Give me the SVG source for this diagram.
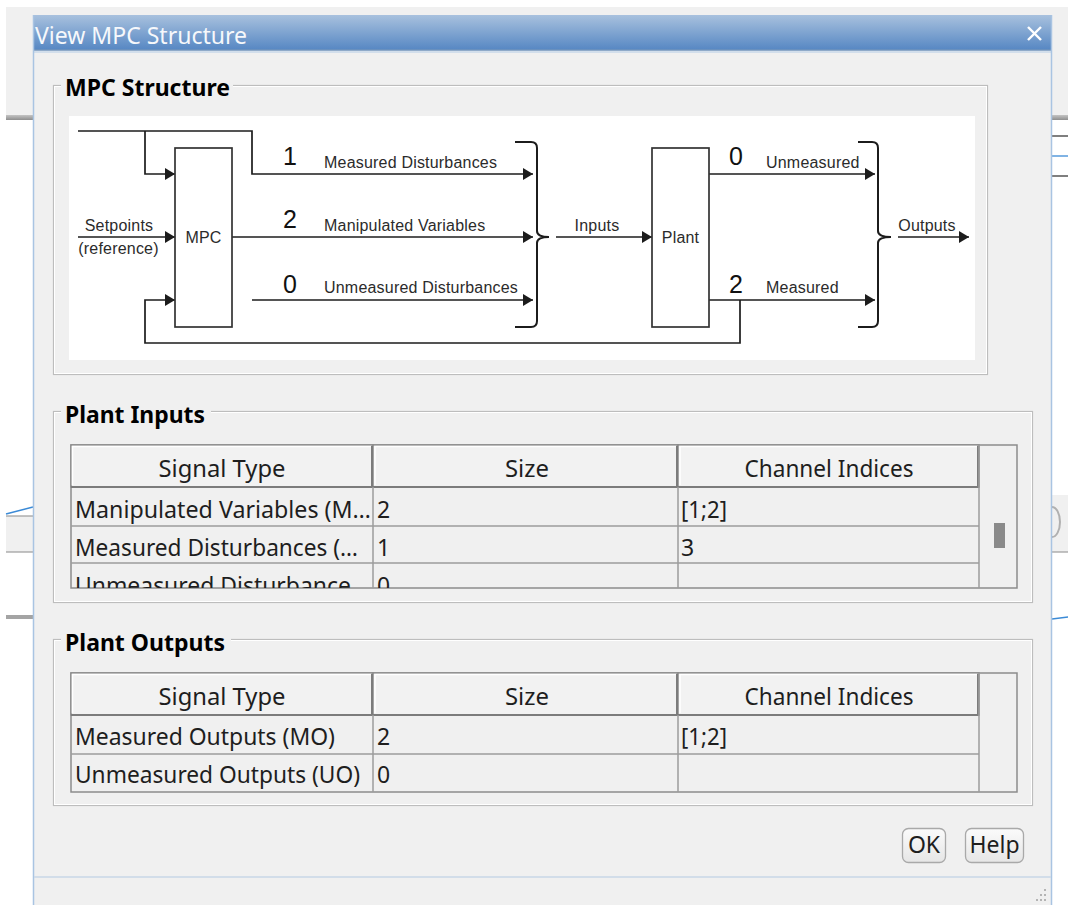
<svg xmlns="http://www.w3.org/2000/svg" width="1068" height="905" viewBox="0 0 1068 905">
  <defs>
    <linearGradient id="titleGrad" x1="0" y1="0" x2="0" y2="1">
      <stop offset="0" stop-color="#a8c1de"/>
      <stop offset="1" stop-color="#5687c3"/>
    </linearGradient>
    <linearGradient id="btnGrad" x1="0" y1="0" x2="0" y2="1">
      <stop offset="0" stop-color="#fbfbfb"/>
      <stop offset="1" stop-color="#e6e6e6"/>
    </linearGradient>
    <linearGradient id="barGrad" x1="0" y1="0" x2="0" y2="1">
      <stop offset="0" stop-color="#c4c4c4"/>
      <stop offset="1" stop-color="#8e8e8e"/>
    </linearGradient>
    <marker id="arrow" markerWidth="10" markerHeight="12" refX="10" refY="6" orient="auto" markerUnits="userSpaceOnUse">
      <path d="M0,0 L10,6 L0,12 z" fill="#1c1c1c"/>
    </marker>
    <clipPath id="clipLastRow">
      <rect x="71" y="563" width="908" height="25"/>
    </clipPath>
  </defs>
  <style>
    .wire{fill:none;stroke:#1c1c1c;stroke-width:1.7}
    .brace{fill:none;stroke:#1c1c1c;stroke-width:2}
    .block{fill:#fff;stroke:#333;stroke-width:1.7}
    .lbl{font-family:"Liberation Sans",Arial,sans-serif;font-size:16px;fill:#2b2b2b;letter-spacing:0.2px}
    .num{font-family:"Liberation Sans",Arial,sans-serif;font-size:25px;fill:#111}
    .ui{font-family:"Noto Sans","Open Sans",sans-serif;font-size:23px;fill:#1e1e1e}
    .grpTitle{font-family:"Noto Sans","Open Sans",sans-serif;font-weight:bold;font-size:23px;fill:#000}
    .grpOuter{fill:none;stroke:#bdbdbd;stroke-width:1.2}
    .grpInner{fill:none;stroke:#ffffff;stroke-width:1}
    .grid{fill:none;stroke:#9c9c9c;stroke-width:1.5}
    .hdr{fill:#f2f2f2;stroke:#8c8c8c;stroke-width:1.5}
    .hl{fill:none;stroke:#ffffff;stroke-width:1.5}
    .sh{fill:none;stroke:#7c7c7c;stroke-width:2}
    .btn{fill:url(#btnGrad);stroke:#a9a9a9;stroke-width:1.3}
  </style>

  <!-- application window behind the dialog -->
  <g id="backdrop">
    <rect x="0" y="0" width="1068" height="905" fill="#ffffff"/>
    <rect x="6" y="7" width="1062" height="110" fill="#f0f0f0"/>
    <rect x="6" y="115" width="1062" height="5" fill="url(#barGrad)"/>
    <line x1="1052" y1="136" x2="1068" y2="136" stroke="#3a3a3a" stroke-width="1.3"/>
    <line x1="1052" y1="156" x2="1068" y2="156" stroke="#3b8ad6" stroke-width="1.3"/>
    <line x1="1052" y1="176" x2="1068" y2="176" stroke="#3a3a3a" stroke-width="1.3"/>
    <line x1="6" y1="514" x2="33" y2="507" stroke="#3b8ad6" stroke-width="1.5"/>
    <rect x="6" y="516" width="27" height="36" fill="#f0f0f0"/>
    <line x1="6" y1="516" x2="33" y2="516" stroke="#9a9a9a" stroke-width="1.2"/>
    <line x1="6" y1="552" x2="33" y2="552" stroke="#9a9a9a" stroke-width="1.2"/>
    <rect x="1052" y="495" width="16" height="57" fill="#f0f0f0"/>
    <line x1="1052" y1="552" x2="1068" y2="552" stroke="#9a9a9a" stroke-width="1.2"/>
    <path d="M1052,507 A8,15 0 0 1 1052,537" fill="none" stroke="#b0b0b0" stroke-width="2"/>
    <rect x="6" y="615" width="27" height="4" fill="#a4a4a4"/>
    <line x1="1052" y1="619" x2="1068" y2="617" stroke="#3b8ad6" stroke-width="1.5"/>
  </g>

  <!-- dialog frame -->
  <g id="dialog">
    <rect x="33" y="15" width="1019" height="895" fill="#f0f0f0"/>
    <rect x="33" y="15" width="1019" height="35" fill="url(#titleGrad)"/>
    <line x1="33" y1="50" x2="1052" y2="50" stroke="#6f93bd" stroke-width="1.5"/>
    <line x1="33" y1="52" x2="1052" y2="52" stroke="#c9d8ea" stroke-width="1.5"/>
    <text x="35" y="44" font-family="'Noto Sans','Open Sans',sans-serif" font-size="23" fill="#f6f8fb" textLength="212" lengthAdjust="spacingAndGlyphs">View MPC Structure</text>
    <line x1="1028" y1="27" x2="1041" y2="40" stroke="#ffffff" stroke-width="2.4"/>
    <line x1="1041" y1="27" x2="1028" y2="40" stroke="#ffffff" stroke-width="2.4"/>
    <line x1="33.5" y1="15" x2="33.5" y2="905" stroke="#a9c4e2" stroke-width="1.5"/>
    <line x1="1051.5" y1="15" x2="1051.5" y2="905" stroke="#a9c4e2" stroke-width="1.5"/>
    <line x1="34" y1="877" x2="1051" y2="877" stroke="#c8d7e7" stroke-width="1.5"/>
    <g fill="#b4b4b4">
      <rect x="1044" y="889" width="2" height="2"/>
      <rect x="1040" y="894" width="2" height="2"/>
      <rect x="1044" y="894" width="2" height="2"/>
      <rect x="1036" y="899" width="2" height="2"/>
      <rect x="1040" y="899" width="2" height="2"/>
      <rect x="1044" y="899" width="2" height="2"/>
    </g>
  </g>

  <!-- MPC Structure group -->
  <g id="mpc-structure-group">
    <rect class="grpOuter" x="53.5" y="85.5" width="934" height="289"/>
    <rect class="grpInner" x="54.5" y="86.5" width="932" height="287"/>
    <rect x="61" y="76" width="172" height="22" fill="#f0f0f0"/>
    <text class="grpTitle" x="65" y="96" textLength="165" lengthAdjust="spacingAndGlyphs">MPC Structure</text>
    <rect x="69" y="116" width="906" height="244" fill="#ffffff"/>
  </g>

  <!-- block diagram connectors -->
  <g id="connectors">
    <path class="wire" d="M78,131 H252 V174 H533" marker-end="url(#arrow)"/>
    <path class="wire" d="M145,131 V174 H175" marker-end="url(#arrow)"/>
    <path class="wire" d="M78,237 H175" marker-end="url(#arrow)"/>
    <path class="wire" d="M740,300 V343 H145 V300 H175" marker-end="url(#arrow)"/>
    <path class="wire" d="M232,237 H533" marker-end="url(#arrow)"/>
    <path class="wire" d="M252,300 H533" marker-end="url(#arrow)"/>
    <path class="wire" d="M556,237 H652" marker-end="url(#arrow)"/>
    <path class="wire" d="M709,174 H875" marker-end="url(#arrow)"/>
    <path class="wire" d="M709,300 H875" marker-end="url(#arrow)"/>
    <path class="wire" d="M898,237 H969" marker-end="url(#arrow)"/>
    <path class="brace" d="M515,142 H531 Q537,142 537,148 V231 Q537,237 549,237 Q537,237 537,243 V321 Q537,327 531,327 H515"/>
    <path class="brace" d="M858,142 H872 Q878,142 878,148 V231 Q878,237 891,237 Q878,237 878,243 V321 Q878,327 872,327 H858"/>
  </g>

  <!-- block diagram nodes -->
  <g id="node-mpc">
    <rect class="block" x="175" y="148" width="57" height="179"/>
    <text class="lbl" x="203.5" y="243" text-anchor="middle">MPC</text>
  </g>
  <g id="node-plant">
    <rect class="block" x="652" y="148" width="57" height="179"/>
    <text class="lbl" x="680.5" y="243" text-anchor="middle">Plant</text>
  </g>
  <g id="labels-inputs">
    <text class="lbl" x="119" y="231" text-anchor="middle">Setpoints</text>
    <text class="lbl" x="118.5" y="254" text-anchor="middle">(reference)</text>
    <text class="num" x="290" y="165" text-anchor="middle">1</text>
    <text class="lbl" x="324" y="168">Measured Disturbances</text>
    <text class="num" x="290" y="228" text-anchor="middle">2</text>
    <text class="lbl" x="324" y="231">Manipulated Variables</text>
    <text class="num" x="290" y="293" text-anchor="middle">0</text>
    <text class="lbl" x="324" y="293">Unmeasured Disturbances</text>
    <text class="lbl" x="597" y="231" text-anchor="middle">Inputs</text>
  </g>
  <g id="labels-outputs">
    <text class="num" x="736" y="165" text-anchor="middle">0</text>
    <text class="lbl" x="766" y="168">Unmeasured</text>
    <text class="num" x="736" y="293" text-anchor="middle">2</text>
    <text class="lbl" x="766" y="293">Measured</text>
    <text class="lbl" x="927" y="231" text-anchor="middle">Outputs</text>
  </g>

  <!-- Plant Inputs group -->
  <g id="plant-inputs-group">
    <rect class="grpOuter" x="53.5" y="411.5" width="979" height="191"/>
    <rect class="grpInner" x="54.5" y="412.5" width="977" height="189"/>
    <rect x="61" y="402" width="150" height="22" fill="#f0f0f0"/>
    <text class="grpTitle" x="65" y="423" textLength="140" lengthAdjust="spacingAndGlyphs">Plant Inputs</text>

    <rect x="71" y="445" width="946" height="143" fill="#f0f0f0" stroke="#8c8c8c" stroke-width="1.5"/>
    <rect class="hdr" x="71" y="445" width="302" height="42"/>
    <rect class="hdr" x="373" y="445" width="305" height="42"/>
    <rect class="hdr" x="678" y="445" width="301" height="42"/>
    <path class="hl" d="M72.5,485 V446.5 H371 M375,485 V446.5 H676 M680,485 V446.5 H977"/>
    <path class="sh" d="M71,487 H979 M372,446 V487 M677,446 V487 M978,446 V487"/>
    <text class="ui" x="222" y="477" text-anchor="middle" textLength="127" lengthAdjust="spacingAndGlyphs">Signal Type</text>
    <text class="ui" x="527" y="477" text-anchor="middle" textLength="44" lengthAdjust="spacingAndGlyphs">Size</text>
    <text class="ui" x="829" y="477" text-anchor="middle" textLength="169" lengthAdjust="spacingAndGlyphs">Channel Indices</text>

    <path class="grid" d="M71,526 H979 M71,563 H979 M373,487 V588 M678,487 V588 M979,445 V588"/>
    <text class="ui" x="75" y="518" textLength="296" lengthAdjust="spacingAndGlyphs">Manipulated Variables (M…</text>
    <text class="ui" x="377" y="518">2</text>
    <text class="ui" x="681" y="518" textLength="46" lengthAdjust="spacingAndGlyphs">[1;2]</text>
    <text class="ui" x="75" y="556" textLength="283" lengthAdjust="spacingAndGlyphs">Measured Disturbances (…</text>
    <text class="ui" x="377" y="556">1</text>
    <text class="ui" x="681" y="556">3</text>
    <g clip-path="url(#clipLastRow)">
      <text class="ui" x="75" y="594" textLength="294" lengthAdjust="spacingAndGlyphs">Unmeasured Disturbance…</text>
      <text class="ui" x="377" y="594">0</text>
    </g>
    <rect x="994" y="523" width="11" height="25" fill="#8a8a8a"/>
  </g>

  <!-- Plant Outputs group -->
  <g id="plant-outputs-group">
    <rect class="grpOuter" x="53.5" y="639.5" width="979" height="166"/>
    <rect class="grpInner" x="54.5" y="640.5" width="977" height="164"/>
    <rect x="61" y="630" width="170" height="22" fill="#f0f0f0"/>
    <text class="grpTitle" x="65" y="651" textLength="160" lengthAdjust="spacingAndGlyphs">Plant Outputs</text>

    <rect x="71" y="673" width="946" height="119" fill="#f0f0f0" stroke="#8c8c8c" stroke-width="1.5"/>
    <rect class="hdr" x="71" y="673" width="302" height="42"/>
    <rect class="hdr" x="373" y="673" width="305" height="42"/>
    <rect class="hdr" x="678" y="673" width="301" height="42"/>
    <path class="hl" d="M72.5,713 V674.5 H371 M375,713 V674.5 H676 M680,713 V674.5 H977"/>
    <path class="sh" d="M71,715 H979 M372,674 V715 M677,674 V715 M978,674 V715"/>
    <text class="ui" x="222" y="705" text-anchor="middle" textLength="127" lengthAdjust="spacingAndGlyphs">Signal Type</text>
    <text class="ui" x="527" y="705" text-anchor="middle" textLength="44" lengthAdjust="spacingAndGlyphs">Size</text>
    <text class="ui" x="829" y="705" text-anchor="middle" textLength="169" lengthAdjust="spacingAndGlyphs">Channel Indices</text>

    <path class="grid" d="M71,754 H979 M373,715 V792 M678,715 V792 M979,673 V792"/>
    <text class="ui" x="75" y="745" textLength="260" lengthAdjust="spacingAndGlyphs">Measured Outputs (MO)</text>
    <text class="ui" x="377" y="745">2</text>
    <text class="ui" x="681" y="745" textLength="46" lengthAdjust="spacingAndGlyphs">[1;2]</text>
    <text class="ui" x="75" y="783" textLength="285" lengthAdjust="spacingAndGlyphs">Unmeasured Outputs (UO)</text>
    <text class="ui" x="377" y="783">0</text>
  </g>

  <!-- dialog buttons -->
  <g id="button-ok">
    <rect class="btn" x="902.5" y="828.5" width="43" height="34" rx="6"/>
    <text class="ui" x="924" y="853" text-anchor="middle">OK</text>
  </g>
  <g id="button-help">
    <rect class="btn" x="965.5" y="828.5" width="58" height="34" rx="6"/>
    <text class="ui" x="994.5" y="853" text-anchor="middle">Help</text>
  </g>
</svg>
